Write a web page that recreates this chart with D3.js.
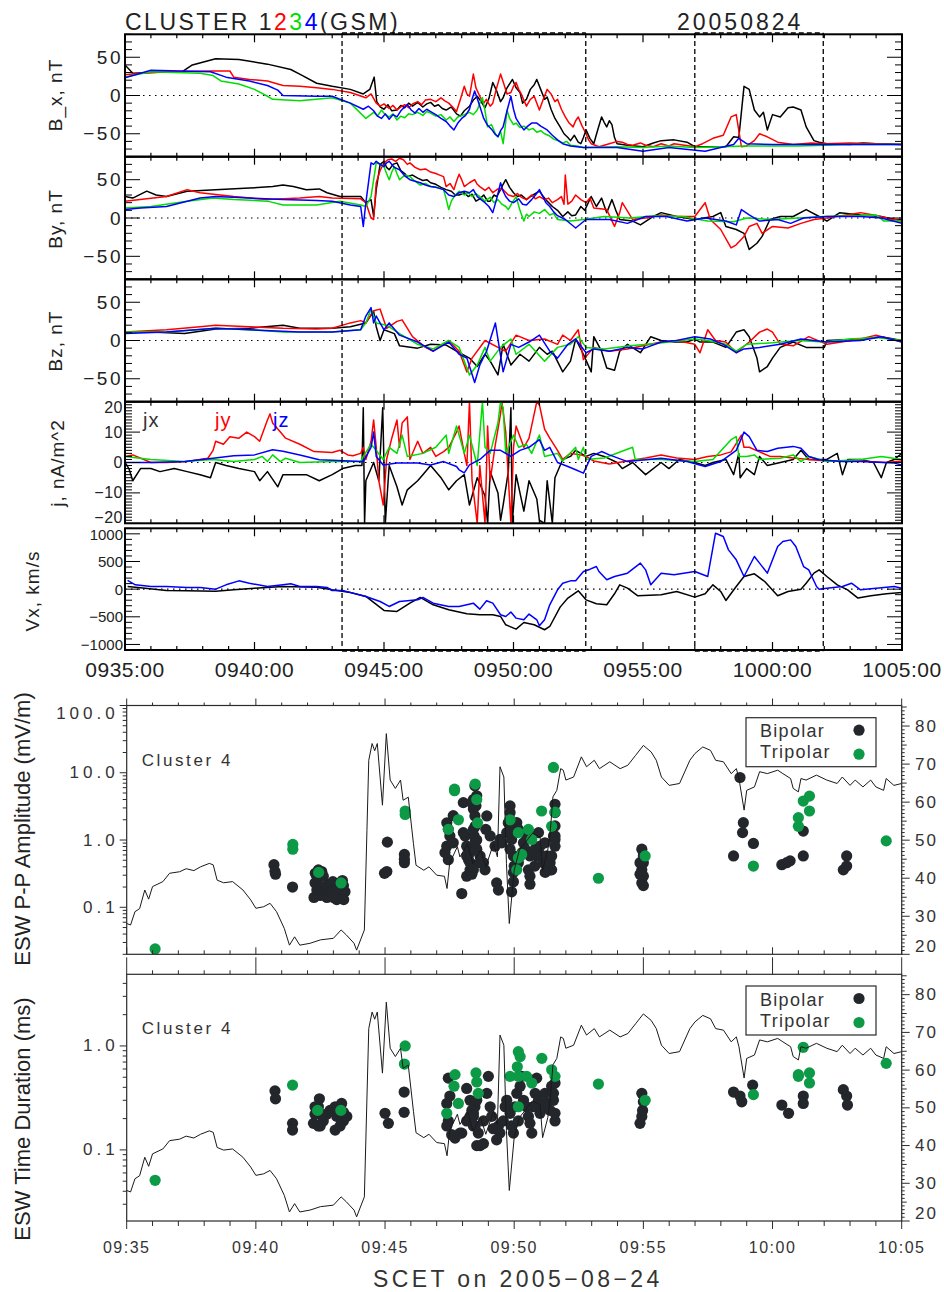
<!DOCTYPE html>
<html><head><meta charset="utf-8">
<script src="https://cdn.jsdelivr.net/npm/d3@7"></script>
<style>
body{margin:0;background:#fff}
svg{display:block}
text{font-family:"Liberation Sans",Arial,Helvetica,sans-serif}
</style>
</head><body>
<svg id="c" width="944" height="1292"></svg>
<script>
// ---------- time axis: minutes after 09:35:00 ----------
const topTimeLabels = ["0935:00","0940:00","0945:00","0950:00","0955:00","1000:00","1005:00"];
const lowTimeLabels = ["09:35","09:40","09:45","09:50","09:55","10:00","10:05"];
const labelMinutes = [0,5,10,15,20,25,30];
// marked intervals (start, end) in minutes
const boxStart = [8.38, 22.0];
const boxEnd = [17.79, 26.96];

// ---------- B_x (nT), spacecraft 1..4 ----------
const bx1 = [[0,40],[0.3,29],[1,30],[2.2,31],[2.6,40],[3.5,48],[4.4,47],[5.5,41],[6.4,34],[6.8,27],[7.4,16],[8.0,12],[8.7,8],[9.2,2],[9.45,8],[9.62,24],[9.72,-8],[9.85,-15],[10.0,-18],[10.15,-12],[10.3,-20],[10.5,-19],[10.65,-13],[10.8,-16],[10.95,-10],[11.1,-14],[11.3,-9],[11.5,-15],[11.65,-11],[11.8,-9],[11.95,-14],[12.1,-12],[12.25,-17],[12.4,-19],[12.6,-15],[12.8,-24],[12.95,-27],[13.1,-20],[13.3,-14],[13.45,-6],[13.6,-1],[13.75,-8],[13.9,-16],[14.05,-4],[14.2,17],[14.35,6],[14.5,-8],[14.6,-3],[14.75,10],[14.96,21],[15.1,10],[15.25,4],[15.35,-10],[15.5,-5],[15.65,8],[15.8,14],[15.9,21],[16.05,8],[16.2,-5],[16.3,-2],[16.45,-18],[16.6,-30],[16.8,-41],[16.95,-50],[17.1,-55],[17.2,-59],[17.35,-52],[17.5,-61],[17.6,-63],[17.7,-55],[17.8,-45],[17.95,-56],[18.1,-63],[18.25,-45],[18.4,-28],[18.5,-35],[18.6,-41],[18.7,-33],[18.8,-38],[18.9,-55],[19.0,-63],[19.4,-65],[20.0,-67],[20.4,-62],[20.7,-59],[21.2,-58],[21.7,-61],[22.0,-67],[22.6,-67],[23.2,-67],[23.5,-54],[23.7,-55],[23.9,12],[24.1,8],[24.3,-19],[24.5,-28],[24.65,-22],[24.8,-45],[25.0,-25],[25.3,-28],[25.6,-16],[25.8,-15],[26.1,-19],[26.3,-41],[26.6,-59],[26.8,-61],[27.1,-63],[28,-64],[28.5,-62],[29,-63],[30,-64]];
const bx2 = [[0,27],[0.6,29],[1.6,31],[3.4,32],[4.05,32],[4.2,24],[4.8,21],[5.5,19],[6.1,13],[6.75,12],[7.4,10],[8.0,8],[8.7,4],[9.3,-3],[9.5,2],[9.7,-10],[9.85,-14],[10.0,-11],[10.2,-17],[10.35,-13],[10.5,-19],[10.65,-15],[10.8,-12],[10.95,-16],[11.1,-11],[11.3,-8],[11.45,-12],[11.6,-6],[11.8,-5],[12.0,-8],[12.2,-3],[12.35,-7],[12.5,-10],[12.65,-15],[12.8,-21],[12.95,-5],[13.1,12],[13.2,2],[13.3,-1],[13.45,28],[13.55,10],[13.7,-1],[13.85,-10],[13.95,-5],[14.1,-14],[14.2,-10],[14.35,10],[14.5,28],[14.6,18],[14.75,2],[14.9,4],[15.0,12],[15.1,17],[15.2,8],[15.3,2],[15.4,-6],[15.5,-14],[15.65,-5],[15.8,-1],[15.9,-10],[16.0,-19],[16.15,-5],[16.3,8],[16.45,2],[16.6,-8],[16.7,-5],[16.85,-18],[17.0,-28],[17.15,-36],[17.3,-41],[17.4,-33],[17.5,-28],[17.65,-40],[17.8,-50],[17.9,-58],[18.0,-63],[18.3,-67],[18.7,-63],[19.0,-60],[19.2,-61],[19.4,-64],[19.6,-65],[19.9,-62],[20.1,-65],[20.4,-67],[20.7,-63],[21.0,-66],[21.2,-63],[21.6,-65],[22.0,-67],[22.3,-63],[22.7,-56],[23.1,-52],[23.4,-28],[23.6,-25],[23.8,-67],[24.0,-66],[24.3,-59],[24.5,-50],[24.8,-54],[25.2,-61],[25.8,-64],[26.5,-62],[27,-63],[28,-62],[29,-63],[30,-64]];
const bx3 = [[0,24],[1.0,31],[2.9,29],[3.4,26],[3.7,19],[4.4,15],[5.0,8],[5.5,-1],[5.7,-5],[6.75,-7],[8.0,-3],[8.7,-10],[9.3,-30],[9.45,-26],[9.6,-22],[9.75,-27],[9.9,-19],[10.05,-25],[10.2,-28],[10.35,-24],[10.5,-32],[10.65,-27],[10.8,-29],[10.95,-24],[11.1,-25],[11.3,-22],[11.5,-26],[11.65,-21],[11.8,-23],[12.0,-27],[12.2,-25],[12.4,-32],[12.55,-28],[12.7,-34],[12.85,-28],[13.1,-25],[13.3,-22],[13.45,-25],[13.6,-19],[13.7,-10],[13.8,-3],[13.9,-20],[14.0,-41],[14.15,-38],[14.3,-50],[14.4,-54],[14.5,-47],[14.6,-63],[14.7,-35],[14.75,-19],[14.85,-30],[15.0,-38],[15.1,-36],[15.25,-42],[15.4,-40],[15.6,-45],[15.75,-43],[15.9,-48],[16.05,-46],[16.2,-50],[16.4,-53],[16.55,-57],[16.7,-59],[16.9,-62],[17.05,-60],[17.2,-65],[17.45,-66],[17.7,-68],[19,-67],[20,-68],[21,-66],[22,-68],[23,-67],[24,-66],[25,-66],[26,-66],[27,-65],[28,-64],[29,-64],[30,-64]];
const bx4 = [[0,23],[1.0,33],[3.3,31],[3.9,24],[4.8,19],[5.5,13],[5.9,7],[6.1,0],[7.4,-1],[8.0,-1],[8.7,-10],[9.2,-18],[9.4,-14],[9.6,-20],[9.75,-27],[9.9,-30],[10.05,-24],[10.2,-31],[10.35,-25],[10.5,-28],[10.65,-20],[10.8,-15],[10.9,-12],[11.05,-19],[11.2,-23],[11.35,-17],[11.5,-22],[11.65,-18],[11.8,-21],[12.0,-25],[12.2,-30],[12.4,-34],[12.55,-40],[12.7,-45],[12.85,-36],[13.0,-30],[13.15,-26],[13.3,-18],[13.4,-5],[13.5,6],[13.6,-4],[13.7,-14],[13.85,-30],[14.0,-39],[14.15,-44],[14.3,-51],[14.4,-54],[14.5,-46],[14.6,-41],[14.75,-20],[14.9,-1],[15.0,-18],[15.1,-30],[15.25,-38],[15.4,-45],[15.55,-40],[15.7,-36],[15.9,-36],[16.05,-40],[16.2,-43],[16.3,-45],[16.5,-52],[16.7,-58],[16.9,-63],[17.2,-66],[17.7,-68],[19,-68],[20.0,-73],[21,-68],[22.4,-73],[23.0,-68],[23.5,-64],[23.7,-56],[24.0,-63],[25,-64],[27,-64],[30,-64]];

// ---------- B_y (nT) ----------
const by1 = [[0,28],[0.3,26],[0.84,35],[1.2,30],[1.6,28],[2.4,35],[3.5,37],[4.8,39],[5.7,41],[6.1,43],[6.5,41],[7.0,37],[7.5,38],[7.8,33],[8.3,28],[9.1,28],[9.3,20],[9.5,24],[9.6,2],[9.7,37],[9.85,70],[10.0,74],[10.1,66],[10.2,63],[10.35,70],[10.5,72],[10.65,62],[10.8,58],[10.9,54],[11.1,56],[11.3,52],[11.5,49],[11.65,50],[11.8,46],[12.0,44],[12.2,40],[12.4,37],[12.6,35],[12.75,30],[12.9,30],[13.1,33],[13.25,28],[13.4,31],[13.55,22],[13.7,25],[13.85,30],[14.0,22],[14.1,22],[14.25,30],[14.35,28],[14.5,37],[14.6,44],[14.7,50],[14.85,40],[15.0,33],[15.15,28],[15.3,30],[15.5,24],[15.65,28],[15.8,31],[16.0,35],[16.15,28],[16.3,22],[16.5,15],[16.7,10],[16.9,2],[17.1,8],[17.25,3],[17.4,4],[17.6,15],[17.75,10],[18.0,28],[18.2,15],[18.4,26],[18.6,7],[18.8,24],[18.95,10],[19.1,-2],[19.6,-4],[19.9,-9],[20.4,2],[20.7,7],[21.3,2],[22.0,-2],[22.7,2],[23.0,7],[23.2,-11],[23.6,-15],[23.9,-20],[24.1,-41],[24.4,-33],[24.6,-24],[24.9,-2],[25.3,2],[25.8,2],[26.3,11],[26.8,2],[27.1,-4],[27.6,7],[28.4,4],[29.2,2],[29.7,-2],[30,-2]];
const by2 = [[0,22],[1.6,28],[2.4,37],[2.9,33],[4.2,28],[5.5,24],[6.75,26],[7.5,28],[8.0,26],[9.1,25],[9.3,20],[9.5,0],[9.6,-2],[9.7,46],[9.85,62],[10.0,72],[10.15,76],[10.3,77],[10.45,74],[10.6,78],[10.75,76],[10.9,70],[11.0,72],[11.2,66],[11.4,63],[11.6,64],[11.8,60],[12.0,58],[12.15,56],[12.3,54],[12.4,41],[12.55,45],[12.7,37],[12.8,48],[12.9,57],[13.0,50],[13.1,41],[13.3,46],[13.5,50],[13.6,44],[13.7,41],[13.9,36],[14.05,40],[14.2,33],[14.4,38],[14.6,37],[14.8,30],[15.0,28],[15.15,32],[15.3,27],[15.5,24],[15.7,30],[15.85,25],[16.0,28],[16.2,24],[16.35,26],[16.5,20],[16.7,24],[16.85,28],[16.95,18],[17.0,56],[17.1,18],[17.25,22],[17.4,30],[17.6,24],[17.8,20],[17.95,26],[18.1,13],[18.6,11],[18.9,-11],[19.1,7],[19.2,20],[19.6,-2],[20.1,0],[20.7,4],[21.3,2],[22.0,2],[22.4,20],[22.6,-2],[23.0,-15],[23.4,-39],[23.6,-35],[23.9,-24],[24.1,-11],[24.4,-7],[24.6,-20],[25.0,-11],[25.6,-13],[26.1,-7],[26.6,-2],[27.1,0],[28.4,7],[28.9,4],[29.7,-2],[30,-4]];
const by3 = [[0,13],[1.0,15],[2.4,22],[3.4,26],[4.2,24],[5.5,22],[6.1,17],[7.4,17],[8.3,22],[9.1,17],[9.3,15],[9.5,28],[9.7,72],[9.85,70],[10.0,67],[10.1,58],[10.2,50],[10.3,60],[10.4,67],[10.5,58],[10.6,50],[10.8,56],[11.0,54],[11.2,48],[11.4,43],[11.6,45],[11.8,41],[12.05,40],[12.3,37],[12.4,25],[12.5,11],[12.6,22],[12.75,30],[12.9,35],[13.1,30],[13.25,33],[13.4,28],[13.55,32],[13.7,28],[13.9,22],[14.1,27],[14.25,20],[14.4,24],[14.55,18],[14.7,15],[14.8,11],[14.95,20],[15.1,28],[15.25,10],[15.4,-4],[15.5,5],[15.6,2],[15.8,8],[16.0,6],[16.2,11],[16.4,4],[16.55,6],[16.7,-2],[17.2,-4],[17.7,-2],[18.5,2],[19.5,0],[20.5,3],[21.5,2],[22.5,-4],[23.5,-5],[24.0,0],[25,-2],[26,0],[27,2],[28,3],[29,4],[29.3,-4],[30,-4]];
const by4 = [[0,11],[0.6,13],[1.6,15],[2.9,26],[3.5,28],[4.8,26],[6.1,24],[7.4,23],[8.0,22],[8.7,17],[9.1,15],[9.2,-11],[9.3,20],[9.5,72],[9.6,70],[9.7,74],[9.85,70],[10.0,67],[10.1,72],[10.2,74],[10.4,66],[10.6,63],[10.8,55],[11.0,50],[11.2,48],[11.4,46],[11.6,43],[11.8,41],[12.0,40],[12.3,37],[12.5,30],[12.7,28],[12.9,33],[13.1,35],[13.3,33],[13.45,37],[13.6,28],[13.75,24],[13.9,20],[14.05,15],[14.2,7],[14.35,25],[14.5,46],[14.6,35],[14.7,28],[14.85,22],[15.0,20],[15.2,25],[15.35,18],[15.5,17],[15.7,24],[15.85,30],[16.0,37],[16.1,30],[16.25,20],[16.4,15],[16.55,8],[16.7,3],[17.0,-2],[17.4,-13],[17.8,-2],[18.7,-2],[19.4,-7],[20.1,2],[20.9,2],[21.7,-4],[22.4,0],[23.2,-4],[23.6,-9],[23.8,11],[24.1,4],[24.5,-4],[25.2,-2],[25.7,-7],[26.2,0],[27.1,2],[28.4,2],[29.2,0],[30,-7]];

// ---------- B_z (nT) ----------
const bz1 = [[0,11],[1.0,11],[2.3,9],[3.5,15],[4.8,16],[6.1,20],[6.75,16],[8.0,16],[8.7,18],[9.3,23],[9.6,38],[9.7,18],[9.85,0],[10.0,14],[10.4,9],[10.6,-7],[11.3,-10],[11.8,-5],[12.4,-6],[12.8,-14],[13.3,-23],[13.6,-34],[13.9,-18],[14.1,-27],[14.4,-45],[14.6,-5],[14.9,-32],[15.25,-18],[15.6,-27],[16.0,-9],[16.3,-18],[16.5,-14],[16.9,-41],[17.2,-27],[17.4,2],[17.7,-18],[18.0,-41],[18.1,5],[18.4,-14],[18.6,-36],[18.9,-39],[19.1,-14],[19.4,-5],[19.9,-16],[20.3,5],[20.7,0],[21.2,-2],[21.7,-2],[22.0,2],[22.2,-2],[22.7,-2],[23.2,-9],[23.6,11],[23.9,14],[24.1,5],[24.4,-23],[24.5,-41],[24.8,-34],[25.0,-23],[25.3,-9],[25.8,-2],[26.3,-9],[27.0,-9],[27.1,0],[28.4,2],[29.2,5],[30,0]];
const bz2 = [[0,11],[1.6,14],[2.9,18],[3.5,20],[4.8,18],[6.1,16],[7.4,15],[8.0,16],[8.7,23],[9.1,26],[9.3,23],[9.6,39],[9.85,41],[10.1,16],[10.5,25],[10.7,27],[11.1,5],[11.6,-9],[11.9,-14],[12.5,0],[12.9,-14],[13.2,-41],[13.4,-23],[13.9,0],[14.4,-9],[14.7,-14],[15.1,7],[15.6,0],[16.2,2],[16.7,-5],[16.9,7],[17.2,0],[17.5,14],[17.7,-25],[18.1,-9],[18.7,-14],[19.4,-11],[20.0,-7],[20.7,-2],[21.3,0],[22.0,-5],[22.2,-16],[22.5,14],[22.8,0],[23.2,-2],[23.6,-16],[24.1,-2],[24.5,11],[24.8,15],[25.0,11],[25.3,-5],[25.8,-7],[26.4,5],[27.1,-5],[28.4,2],[29.0,7],[30,-2]];
const bz3 = [[0,11],[1.6,11],[3.5,16],[4.8,14],[6.1,11],[8.0,11],[9.1,14],[9.3,23],[9.5,41],[9.7,23],[10.1,20],[10.6,9],[11.3,-5],[11.9,-11],[12.5,0],[12.9,-9],[13.3,-45],[13.6,-32],[13.9,-9],[14.1,-27],[14.5,-9],[14.9,2],[15.1,-18],[15.6,-5],[16.2,-27],[16.7,-9],[17.2,-5],[17.5,5],[17.8,-9],[18.5,-11],[19.5,-7],[20.5,-4],[21.5,0],[22.0,2],[22.5,0],[23.2,-5],[23.6,-14],[24.0,-5],[25,-3],[26,0],[27,-2],[28,2],[29,4],[30,0]];
const bz4 = [[0,9],[1.6,11],[3.5,16],[4.8,14],[6.75,11],[8.0,11],[9.1,14],[9.3,32],[9.5,43],[9.6,23],[9.7,32],[10.0,14],[10.2,23],[10.6,7],[11.3,-2],[11.9,-14],[12.5,-2],[12.9,-18],[13.2,-23],[13.5,-55],[13.7,-32],[13.96,-14],[14.3,23],[14.6,-41],[14.9,-5],[15.2,-9],[15.6,-2],[16.0,7],[16.4,-14],[16.7,-23],[17.1,-5],[17.4,2],[17.8,-16],[18.1,-11],[18.7,-14],[19.4,-9],[20.0,-11],[20.7,-2],[21.3,0],[22.0,5],[22.6,2],[23.1,-5],[23.6,-16],[23.9,-11],[24.5,-9],[25.3,-5],[26.1,2],[27.1,-2],[28.4,0],[29.2,5],[30,-2]];

// ---------- current density (nA/m^2) ----------
const jx = [[0,0],[0.15,-2],[0.3,-6],[0.6,-2],[1.0,-2],[1.35,-3],[1.9,-2],[2.4,-3],[2.9,-4],[3.3,-5],[3.5,0],[3.9,-1],[4.4,-2],[5.0,-3],[5.2,-6],[5.5,-3],[5.9,-8],[6.1,-4],[6.5,-4],[7.0,-4],[7.5,-6],[8.0,-4],[8.4,-2],[8.9,-1],[9.15,-1],[9.2,18],[9.25,-20],[9.3,-6],[9.6,0],[9.8,-6],[9.95,18],[10.05,-20],[10.2,-1],[10.5,-8],[10.7,-14],[10.9,-9],[11.3,-6],[11.5,-4],[11.8,-1],[12.2,-5],[12.5,-9],[12.8,-6],[13.1,-4],[13.3,-14],[13.6,-5],[13.9,-11],[14.0,-20],[14.1,-3],[14.4,-10],[14.5,-19],[14.6,-14],[14.8,-3],[14.9,18],[14.95,-20],[15.1,-4],[15.4,-16],[15.6,-6],[15.9,-12],[16.0,-19],[16.2,-20],[16.3,-6],[16.5,-20],[16.6,-5],[16.9,1],[17.2,2],[17.4,4],[17.8,2],[18.1,3],[18.5,2],[19.0,0],[19.2,-2],[19.6,0],[20.1,-4],[20.7,0],[21.0,-2],[21.4,1],[22.0,0],[22.4,-1],[22.7,0],[23.2,1],[23.5,-4],[23.7,3],[23.75,-5],[24.0,-2],[24.3,-4],[24.5,2],[24.8,-1],[25.3,0],[25.8,1],[26.1,4],[26.4,1],[27.1,1],[27.5,3],[27.7,-4],[27.9,1],[28.4,1],[28.9,0],[29.2,-5],[29.4,0],[29.7,1],[30,3]];
const jy = [[0,2],[0.3,2.5],[1.0,0],[1.6,0],[2.4,0.3],[3.2,1.4],[3.4,4],[3.5,7],[3.8,6],[4.05,8.5],[4.4,8],[4.7,10],[5.0,8.5],[5.2,7],[5.5,14],[5.6,16],[5.7,13],[6.0,10],[6.2,8],[6.75,6],[7.3,3.6],[8.0,3.3],[8.3,4],[8.6,2.5],[8.8,2.2],[9.1,3],[9.2,5],[9.3,1],[9.5,7],[9.6,14],[9.7,5],[9.8,-6],[9.97,-14],[10.1,1],[10.3,8],[10.5,14],[10.6,5],[10.7,13],[10.9,15],[11.0,1],[11.3,7],[11.5,3],[11.8,5],[12.0,2],[12.3,3.6],[12.5,5],[12.8,10],[12.9,12],[13.1,3],[13.2,-1],[13.3,20],[13.4,-6],[13.6,-20],[13.7,-1],[13.9,-20],[14.0,12],[14.1,-6],[14.3,6],[14.5,16],[14.55,20],[14.7,10],[14.9,-20],[15.0,5],[15.1,12],[15.4,5],[15.6,8],[15.9,20],[16.0,19],[16.2,11],[16.4,8],[16.7,4],[16.9,1],[17.2,3],[17.6,2.5],[17.8,2],[18.1,0.5],[18.7,-0.5],[19.4,0.5],[20.1,1.5],[20.7,2.5],[21.3,1.5],[22.0,1],[22.5,2],[23.0,2.5],[23.4,3.5],[23.8,9],[23.9,5],[24.1,5],[24.5,3.5],[24.9,2],[25.3,2],[25.8,1.5],[26.4,1],[27.1,0.5],[28.4,0.5],[29.4,0],[30,0.5]];
const jg = [[0,2],[1.0,1],[2.3,0.3],[3.4,1],[4.2,0.3],[5.0,1],[5.3,2],[5.5,0.3],[5.7,2.5],[6.0,0.3],[6.2,1.4],[6.75,0],[8.0,0.3],[9.1,0.3],[9.2,2],[9.5,6],[9.7,4],[9.97,1],[10.2,5],[10.5,3],[10.7,9],[10.9,2],[11.5,3],[12.0,5],[12.4,9],[12.5,3],[12.8,12],[13.1,3],[13.3,9],[13.6,-1],[13.8,20],[13.9,5],[14.1,3],[14.4,13],[14.5,20],[14.6,18],[14.7,3],[15.0,9],[15.2,5],[15.5,6],[15.7,3],[16.0,9],[16.2,2],[16.7,3],[16.9,0.5],[17.4,5],[17.5,1],[17.7,5],[17.8,1],[18.5,1.5],[19.6,5],[19.7,1],[20.7,1],[22.0,0.3],[22.7,1],[23.4,7.5],[23.6,8.5],[23.7,2],[24.0,2],[24.3,2.5],[24.5,1],[25.3,1.4],[25.8,2.5],[26.1,0.3],[26.4,2],[27.1,0.3],[28.4,1],[29.2,2],[30,1]];
const jz = [[0,0],[1.0,0],[2.3,0.3],[3.4,1.4],[4.2,2.2],[5.0,2.5],[5.7,4.2],[6.1,3.7],[6.75,2.5],[7.5,0.9],[8.0,0.7],[9.1,0.3],[9.2,0.3],[9.5,5],[9.6,10],[9.7,2],[9.97,-0.8],[10.5,-0.2],[11.3,-0.2],[11.8,-0.8],[12.3,0.3],[12.8,-1.3],[12.9,-2.4],[13.1,-3.4],[13.3,-0.8],[13.7,1],[14.1,4],[14.5,4],[14.9,2],[15.25,4],[15.6,5],[16.0,7.5],[16.2,4],[16.4,5],[16.7,0],[17.1,-1.3],[17.4,-2.4],[17.7,-3.5],[18.0,2],[18.4,3.6],[18.7,2.5],[19.4,0.3],[20.1,0.9],[20.7,1.4],[21.7,0.3],[22.4,-1.3],[23.0,0.3],[23.6,4],[23.9,10],[24.1,8.5],[24.4,4],[24.8,3.6],[25.2,4.7],[25.8,5.3],[26.1,4.7],[26.4,2],[26.8,0.9],[27.7,0.3],[28.4,0.3],[29.7,-0.2],[30,-0.8]];

// ---------- V_x (km/s) ----------
const vxBlack = [[0.1,48],[0.5,30],[1.6,-24],[2.4,-30],[3.5,-36],[4.2,-12],[5.0,18],[6.1,48],[7.4,36],[8.0,-12],[8.7,-60],[9.3,-132],[10.0,-385],[10.5,-403],[11.0,-253],[11.4,-150],[11.9,-283],[12.5,-373],[13.2,-445],[13.7,-463],[14.2,-463],[14.5,-494],[14.7,-644],[15.1,-722],[15.4,-602],[15.8,-644],[16.2,-734],[16.4,-675],[16.8,-325],[17.1,-162],[17.5,-30],[17.8,-193],[18.2,-265],[18.6,-283],[18.9,-84],[19.1,78],[19.4,18],[19.8,-120],[20.7,-102],[21.3,-42],[22.0,-144],[22.4,-84],[22.7,78],[23.0,-42],[23.2,-205],[23.6,48],[23.9,229],[24.3,277],[24.7,138],[25.2,-120],[25.6,-42],[26.1,0],[26.3,108],[26.6,289],[26.8,349],[27.1,229],[27.5,78],[27.9,-12],[28.3,-162],[28.8,-120],[29.4,-84],[30,-60]];
const vxBlue = [[0.1,157],[0.4,78],[1.0,48],[1.6,48],[2.4,30],[2.9,30],[3.5,0],[3.9,78],[4.4,150],[4.8,108],[5.5,48],[6.1,78],[6.4,96],[6.75,48],[7.4,48],[7.8,30],[8.0,-24],[8.4,-24],[8.8,-72],[9.3,-132],[9.85,-223],[10.2,-313],[10.6,-223],[11.3,-193],[11.5,-150],[11.9,-253],[12.5,-313],[12.9,-313],[13.45,-253],[13.7,-361],[13.96,-210],[14.2,-253],[14.5,-463],[14.7,-494],[14.9,-415],[15.1,-524],[15.4,-554],[15.6,-451],[15.9,-554],[16.0,-662],[16.2,-554],[16.4,-283],[16.7,-12],[16.9,108],[17.2,150],[17.4,150],[17.7,319],[17.96,361],[18.2,409],[18.3,319],[18.6,169],[18.9,229],[19.4,289],[19.9,470],[20.1,349],[20.3,78],[20.7,289],[21.2,259],[22.0,319],[22.5,229],[22.8,1011],[23.1,951],[23.3,710],[23.6,530],[23.9,229],[24.1,409],[24.3,590],[24.5,470],[24.8,289],[25.2,771],[25.4,861],[25.7,891],[25.9,771],[26.2,409],[26.4,349],[26.7,48],[26.8,0],[27.1,18],[27.7,48],[28.05,108],[28.4,-12],[29.0,18],[29.7,48],[30,18]];

// ---------- ESW panels ----------
// background trace read on the right-hand axis (20-80)
const bgTrace = [[0,28.1],[0.15,27.7],[0.32,31.2],[0.5,32],[0.7,36.9],[0.85,34.5],[1.0,37.8],[1.4,39.1],[1.66,41.3],[2.05,41.7],[2.3,42.5],[2.6,42],[2.86,43.0],[3.2,43.9],[3.35,43.5],[3.5,39.5],[3.75,38.8],[4.1,39.1],[4.5,36.9],[4.8,34.3],[5.0,32.1],[5.3,32.5],[5.55,33.4],[5.8,31.2],[6.1,26.8],[6.3,22.4],[6.5,24.6],[6.7,22.4],[7.1,22.9],[7.5,23.8],[8.0,24.2],[8.3,26.4],[8.5,25.1],[8.8,22.9],[8.9,21.1],[9.2,26.4],[9.3,52.6],[9.37,71],[9.5,75.4],[9.6,73.5],[9.7,75.4],[9.9,59.2],[10.05,78],[10.2,65.8],[10.4,63.6],[10.6,65.8],[10.7,60.5],[10.9,61.3],[11.1,49.1],[11.2,43.4],[11.5,42.1],[11.7,43],[12.0,40.8],[12.3,40.5],[12.4,37.3],[12.5,43.9],[12.8,48.3],[12.9,45.6],[13.2,49],[13.4,43.9],[13.7,47.4],[13.9,43.0],[14.2,49.1],[14.35,45.6],[14.45,69.3],[14.6,66.6],[14.7,43.9],[14.81,28.1],[15.0,42.1],[15.2,47.4],[15.5,50.0],[15.7,51.8],[16.0,50.9],[16.1,42.1],[16.3,47.4],[16.4,52.6],[16.5,61.4],[16.65,63.1],[16.8,68.8],[16.9,68.4],[17.0,65.8],[17.3,66.6],[17.6,71.9],[17.8,69.3],[18.1,71.0],[18.3,68.8],[18.7,70.6],[19.1,68.8],[19.4,69.7],[19.7,72.3],[20.0,74.9],[20.3,73.2],[20.5,71.0],[20.7,66.6],[21.0,64.4],[21.4,64.9],[21.8,71.0],[22.0,72.8],[22.3,74.5],[22.6,73.6],[22.8,71.0],[23.1,70.6],[23.4,67.5],[23.6,68.8],[23.7,66.2],[23.9,57.9],[24.0,63.1],[24.3,64.0],[24.5,68.0],[24.8,67.5],[25.2,68.4],[25.4,67.5],[25.7,66.2],[25.8,63.6],[26.0,62.7],[26.1,66.2],[26.3,65.8],[26.7,67.1],[27.1,65.8],[27.5,64.9],[27.7,66.6],[28.0,64.4],[28.2,65.8],[28.5,64.0],[28.8,65.8],[29.0,64.0],[29.3,63.1],[29.4,66.2],[29.7,64.4],[30,64.9]];

// peak-to-peak amplitude (mV/m)
const ampBipolar = [[5.70,0.43],[5.74,0.34],[5.76,0.31],[6.42,0.20],
[7.42,0.36],[7.29,0.23],[7.36,0.18],[7.25,0.14],[7.49,0.15],[7.68,0.18],[7.81,0.22],[7.98,0.24],[8.07,0.18],[8.13,0.13],[8.32,0.16],[8.39,0.21],[8.45,0.17],[7.61,0.29],[7.55,0.34],[8.26,0.23],[7.36,0.29],[7.45,0.21],[7.6,0.2],[7.9,0.17],[8.2,0.19],[7.3,0.32],[8.35,0.25],[7.75,0.14],[8.0,0.14],[8.4,0.13],
[10.09,0.93],[10.07,0.34],[9.98,0.32],[10.75,0.61],[10.75,0.46],[10.75,0.52],
[12.32,0.65],[12.39,1.8],[12.39,0.81],[12.45,1.44],[12.45,0.51],[12.51,1.15],[12.64,0.91],[12.64,2.3],[12.97,0.16],[13.03,3.6],[13.1,1.15],[13.16,0.29],[13.23,0.51],[13.29,0.36],[13.42,4.0],[13.42,2.9],[13.49,1.6],[13.55,1.0],[13.55,0.73],[13.68,0.46],
[13.03,1.29],[13.16,0.81],[13.29,0.65],[13.16,0.58],[13.29,0.46],
[13.48,6.4],[13.55,4.54],[13.52,3.22],[13.48,2.28],[13.42,1.44],[13.45,1.15],[13.48,0.91],[13.68,0.58],[13.42,0.36],[13.36,0.31],[13.35,3.6],
[13.94,2.28],[14.07,1.15],[13.87,0.36],[13.81,0.46],[13.9,1.44],
[14.26,0.81],[14.32,0.23],[14.39,0.18],[14.45,1.02],[14.52,0.91],
[14.84,3.22],[14.84,2.56],[14.84,2.03],[14.77,1.81],[14.84,1.44],[14.71,1.29],[14.84,0.73],[14.97,0.58],[14.97,0.33],[14.97,0.24],[14.9,0.17],[14.9,1.02],
[15.1,1.81],[15.16,1.44],[15.23,0.58],[15.16,0.46],[15.36,0.91],[15.42,0.73],[15.42,1.29],[15.48,1.15],[15.61,0.58],[15.55,0.36],[15.61,0.29],[15.61,0.22],[15.68,1.15],[15.81,0.73],[15.87,0.58],[15.94,1.29],[16.0,0.81],[16.07,0.58],[16.13,0.46],[16.19,0.91],[16.26,0.58],[16.39,0.36],[16.39,0.46],[16.52,1.15],[16.58,0.81],[16.58,1.15],[16.58,3.4],[16.58,2.56],[16.58,1.62],[16.58,1.02],[16.45,0.58],[16.45,0.36],[15.3,0.65],[15.0,0.41],[15.8,0.41],[16.2,0.33],
[19.94,0.73],[20.0,0.58],[20.0,0.46],[19.94,0.36],[20.0,0.29],[19.94,0.23],[20.0,0.21],[19.87,0.46],[19.87,0.31],
[23.49,0.58],[23.74,8.5],[23.87,1.81],[23.84,1.29],[24.26,0.89],[25.36,0.43],[25.55,0.46],[25.68,0.49],[26.19,1.36],[26.19,0.58],[27.74,0.36],[27.87,0.41],[27.87,0.58]];
const ampTripolar = [[1.1,0.024],[6.43,0.86],[6.43,0.73],[7.43,0.33],[8.3,0.23],[10.78,2.7],[10.78,2.4],[12.69,5.7],[12.69,5.4],[12.45,1.44],[12.84,2.0],[13.49,6.8],[13.55,4.0],[13.58,1.8],[14.84,2.0],[15.1,0.36],[15.16,0.54],[15.16,1.29],[15.29,0.61],[15.55,1.44],[15.68,1.02],[16.06,2.7],[16.45,1.6],[16.52,12.0],[16.58,2.6],[18.26,0.27],[20.07,0.58],[24.26,0.41],[26.0,2.15],[26.0,1.6],[26.19,3.8],[26.43,4.5],[26.43,2.7],[29.4,0.97]];

// time duration (ms)
const durBipolar = [[5.74,0.37],[5.76,0.31],[6.42,0.18],[6.42,0.155],
[7.46,0.31],[7.42,0.26],[7.29,0.22],[7.23,0.18],[7.42,0.17],[7.61,0.19],[7.74,0.22],[7.87,0.24],[8.07,0.26],[8.13,0.21],[8.07,0.155],[8.32,0.28],[8.39,0.19],[8.26,0.17],[7.49,0.17],[7.29,0.26],[7.55,0.22],[8.52,0.21],[8.39,0.23],
[10.0,0.225],[10.13,0.18],[10.74,0.36],[10.74,0.23],
[12.45,0.49],[12.39,0.28],[12.51,0.33],[12.45,0.19],[12.39,0.17],[12.58,0.14],[12.71,0.13],[12.97,0.145],[13.16,0.39],[13.29,0.30],[13.42,0.21],[13.49,0.17],[13.55,0.11],[13.36,0.24],
[12.9,0.145],[13.16,0.19],[13.29,0.21],[13.42,0.225],[13.48,0.26],[13.55,0.30],[13.42,0.17],[13.61,0.145],[13.68,0.11],[13.81,0.115],[13.81,0.19],[14.0,0.51],[13.94,0.35],[14.07,0.26],[14.13,0.21],[14.19,0.16],[14.32,0.125],[14.39,0.17],[14.45,0.145],[14.58,0.19],[14.65,0.26],[14.71,0.30],[14.84,0.225],[14.9,0.17],[14.97,0.145],[15.03,0.26],[15.1,0.35],[15.16,0.19],[15.23,0.41],[15.29,0.51],[15.36,0.30],[15.48,0.26],[15.55,0.21],[15.61,0.18],[15.68,0.145],[15.74,0.26],[15.81,0.35],[15.87,0.49],[15.94,0.30],[16.0,0.225],[16.07,0.26],[16.19,0.35],[16.26,0.28],[16.39,0.24],[16.45,0.41],[16.52,0.30],[16.58,0.225],[16.58,0.19],[16.52,0.35],[16.58,0.44],
[19.94,0.35],[20.0,0.29],[19.97,0.24],[19.94,0.21],[19.87,0.18],
[23.49,0.36],[23.74,0.33],[23.81,0.29],[24.23,0.42],[25.36,0.27],[25.62,0.225],[26.19,0.33],[26.19,0.28],[27.74,0.38],[27.87,0.33],[27.9,0.27]];
const durTripolar = [[1.1,0.051],[6.42,0.42],[7.39,0.24],[8.29,0.24],[10.78,1.0],[10.75,0.67],[12.71,0.53],[12.67,0.41],[12.39,0.225],[12.84,0.28],[13.52,0.55],[13.55,0.45],[13.61,0.35],[15.16,0.88],[15.23,0.79],[15.12,0.63],[14.84,0.51],[15.16,0.51],[15.16,0.26],[15.48,0.51],[15.68,0.44],[16.07,0.76],[16.45,0.59],[16.58,0.51],[18.26,0.43],[20.07,0.30],[24.26,0.34],[26.0,0.53],[26.0,0.51],[26.19,0.97],[26.43,0.55],[26.43,0.44],[29.4,0.68]];

// ---------- drawing ----------
const svg = d3.select('#c');
const X0T = 125, X1T = 902;
const xT = d3.scaleLinear([0, 30], [X0T, X1T]);
const minuteTicks = d3.range(0, 31, 1);

const clr = {c1:'#000000', c2:'#ff0000', c3:'#00dd00', c4:'#0000ff'};

function tickSet(g, pts, width, color) {
  g.selectAll(null).data(pts).join('line')
    .attr('x1', d => d[0]).attr('y1', d => d[1])
    .attr('x2', d => d[2]).attr('y2', d => d[3])
    .attr('stroke', color || '#000').attr('stroke-width', width);
}

const topPanels = [
  {top:34.3, bot:156.7, dom:[-80,80], major:[-50,0,50], step:10, title:'B_x, nT', tx:55, ty:95,
   series:[[bx1,clr.c1],[bx2,clr.c2],[bx3,clr.c3],[bx4,clr.c4]], fs:19, ls:2.5},
  {top:156.7, bot:279.3, dom:[-80,80], major:[-50,0,50], step:10, title:'By, nT', tx:55, ty:219,
   series:[[by1,clr.c1],[by2,clr.c2],[by3,clr.c3],[by4,clr.c4]], fs:19, ls:2.5},
  {top:279.3, bot:401.7, dom:[-80,80], major:[-50,0,50], step:10, title:'Bz, nT', tx:55, ty:341,
   series:[[bz1,clr.c1],[bz2,clr.c2],[bz3,clr.c3],[bz4,clr.c4]], fs:19, ls:2.5},
  {top:401.7, bot:523.3, dom:[-20,20], major:[-20,-10,0,10,20], step:1, title:'j, nA/m^2', tx:57, ty:463,
   series:[[jx,clr.c1],[jy,clr.c2],[jg,clr.c3],[jz,clr.c4]], fs:16, ls:0.5},
  {top:528.3, bot:650, dom:[-1100,1100], major:[-1000,-500,0,500,1000], step:100, title:'Vx, km/s', tx:32, ty:591,
   series:[[vxBlack,clr.c1],[vxBlue,clr.c4]], fs:15, ls:0}
];

const fmt = d => d < 0 ? '\u2212' + Math.abs(d) : String(d);

topPanels.forEach((p, i) => {
  const y = d3.scaleLinear(p.dom, [p.bot, p.top]);
  const g = svg.append('g');
  const cid = 'clipT' + i;
  svg.append('clipPath').attr('id', cid).append('rect')
    .attr('x', X0T).attr('y', p.top).attr('width', X1T - X0T).attr('height', p.bot - p.top);

  // zero reference
  g.append('line').attr('x1', X0T).attr('x2', X1T).attr('y1', y(0)).attr('y2', y(0))
    .attr('stroke', '#000').attr('stroke-width', 1.1).attr('stroke-dasharray', '1.5,4.5');

  // traces
  const line = d3.line().x(d => xT(d[0])).y(d => y(d[1]));
  const lg = g.append('g').attr('clip-path', `url(#${cid})`);
  p.series.forEach(([data, c]) => {
    lg.append('path').attr('d', line(data)).attr('fill', 'none')
      .attr('stroke', c).attr('stroke-width', 1.5).attr('stroke-linejoin', 'round');
  });

  // y ticks (inward, both sides)
  const minor = d3.range(p.dom[0], p.dom[1] + 1e-9, p.step).filter(v => !p.major.includes(v));
  const yt = [];
  minor.forEach(v => { yt.push([X0T, y(v), X0T + 7, y(v)]); yt.push([X1T, y(v), X1T - 7, y(v)]); });
  p.major.forEach(v => { yt.push([X0T, y(v), X0T + 15, y(v)]); yt.push([X1T, y(v), X1T - 15, y(v)]); });
  tickSet(g, yt, 1);

  // x ticks (inward, top and bottom)
  const xt = [];
  minuteTicks.forEach(m => {
    const L = m % 5 === 0 ? 8 : 4;
    xt.push([xT(m), p.top, xT(m), p.top + L]);
    xt.push([xT(m), p.bot, xT(m), p.bot - L]);
  });
  tickSet(g, xt, 1.2);

  // frame
  g.append('rect').attr('x', X0T).attr('y', p.top).attr('width', X1T - X0T).attr('height', p.bot - p.top)
    .attr('fill', 'none').attr('stroke', '#000').attr('stroke-width', 2);

  // y labels
  g.selectAll(null).data(p.major).join('text')
    .attr('x', X0T - 2).attr('y', v => Math.min(p.bot - 6, Math.max(p.top + 6, y(v))))
    .attr('text-anchor', 'end').attr('dominant-baseline', 'central')
    .attr('font-size', p.fs).attr('letter-spacing', p.ls).attr('fill', '#222')
    .text(fmt);

  // axis title
  g.append('text').attr('transform', `translate(${p.tx},${p.ty}) rotate(-90)`)
    .attr('text-anchor', 'middle').attr('dominant-baseline', 'central')
    .attr('font-size', 19).attr('letter-spacing', 1).attr('fill', '#222').text(p.title);
});

// component labels inside current panel
[['jx', 143, '#333'], ['jy', 215, clr.c2], ['jz', 273, clr.c4]].forEach(([t, x, c]) => {
  svg.append('text').attr('x', x).attr('y', 426.5).attr('font-size', 20)
    .attr('letter-spacing', 1).attr('fill', c).text(t);
});

// time labels under the top stack
svg.selectAll(null).data(labelMinutes).join('text')
  .attr('x', m => xT(m)).attr('y', 677).attr('text-anchor', 'middle')
  .attr('font-size', 21).attr('letter-spacing', 0.5).attr('fill', '#222')
  .text((m, i) => topTimeLabels[i]);

// header
const head = svg.append('text').attr('x', 125).attr('y', 29.5).attr('font-size', 23)
  .attr('letter-spacing', 2.5).attr('fill', '#222');
head.append('tspan').text('CLUSTER  1');
head.append('tspan').attr('fill', clr.c2).text('2');
head.append('tspan').attr('fill', clr.c3).text('3');
head.append('tspan').attr('fill', clr.c4).text('4');
head.append('tspan').text('(GSM)');
svg.append('text').attr('x', 677).attr('y', 29.5).attr('font-size', 23)
  .attr('letter-spacing', 3).attr('fill', '#222').text('20050824');

// marked intervals
const dashG = svg.append('g').attr('stroke', '#000').attr('stroke-width', 1.3)
  .attr('stroke-dasharray', '5,3').attr('fill', 'none');
boxStart.forEach((s, i) => {
  const a = xT(s), b = xT(boxEnd[i]);
  dashG.append('line').attr('x1', a).attr('x2', a).attr('y1', 33).attr('y2', 651);
  dashG.append('line').attr('x1', b).attr('x2', b).attr('y1', 33).attr('y2', 651);
  dashG.append('line').attr('x1', a).attr('x2', b).attr('y1', 33).attr('y2', 33);
  dashG.append('line').attr('x1', a).attr('x2', b).attr('y1', 651).attr('y2', 651);
});

// ---------- lower ESW panels ----------
const X0L = 126.7, X1L = 901.7;
const xL = d3.scaleLinear([0, 30], [X0L, X1L]);
const lowPanels = [
  {top:705.5, bot:954.3, dom:[0.02, 100], labels:[[0.1,'0.1'],[1,'1.0'],[10,'10.0'],[100,'100.0']],
   title:'ESW P-P Amplitude (mV/m)', ty:829, bip:ampBipolar, tri:ampTripolar,
   topTick:[3,7], botTick:[-4,-7], showX:false},
  {top:974.3, bot:1221, dom:[0.0207, 4.89], labels:[[0.1,'0.1'],[1,'1.0']],
   title:'ESW Time Duration (ms)', ty:1119, bip:durBipolar, tri:durTripolar,
   topTick:[4,17], botTick:[5,8], showX:true}
];
const rightDom = [20, 85.4];
const ink = '#2b2b2b';

lowPanels.forEach((p, i) => {
  const y = d3.scaleLog(p.dom, [p.bot, p.top]);
  const yr = d3.scaleLinear(rightDom, [p.bot, p.top]);
  const g = svg.append('g');
  const cid = 'clipL' + i;
  svg.append('clipPath').attr('id', cid).append('rect')
    .attr('x', X0L).attr('y', p.top).attr('width', X1L - X0L).attr('height', p.bot - p.top);
  const inner = g.append('g').attr('clip-path', `url(#${cid})`);

  // event markers
  inner.selectAll(null).data(p.bip).join('circle')
    .attr('cx', d => xL(d[0])).attr('cy', d => y(d[1])).attr('r', 5.6).attr('fill', '#23262b');
  inner.selectAll(null).data(p.tri).join('circle')
    .attr('cx', d => xL(d[0])).attr('cy', d => y(d[1])).attr('r', 5.6).attr('fill', '#0c9a47');

  // background trace on right axis
  inner.append('path').attr('d', d3.line().x(d => xL(d[0])).y(d => yr(d[1]))(bgTrace))
    .attr('fill', 'none').attr('stroke', '#1a1a1a').attr('stroke-width', 1);

  // frame
  g.append('rect').attr('x', X0L).attr('y', p.top).attr('width', X1L - X0L).attr('height', p.bot - p.top)
    .attr('fill', 'none').attr('stroke', ink).attr('stroke-width', 1.2);

  const t = [];
  // x ticks: top outward, bottom per panel
  minuteTicks.forEach(m => {
    const big = m % 5 === 0;
    t.push([xL(m), p.top, xL(m), p.top - (big ? p.topTick[1] : p.topTick[0])]);
    t.push([xL(m), p.bot, xL(m), p.bot + (big ? p.botTick[1] : p.botTick[0])]);
  });
  // left log ticks outward
  const [lo, hi] = p.dom;
  for (let e = -2; e <= 2; e++) {
    for (let k = 1; k <= 9; k++) {
      const v = k * Math.pow(10, e);
      if (v < lo || v > hi) continue;
      t.push([X0L, y(v), X0L - (k === 1 ? 7 : 4), y(v)]);
    }
  }
  // right linear ticks outward
  d3.range(20, 86, 1).forEach(v => {
    const L = v % 10 === 0 ? 8 : (v % 5 === 0 ? 5 : 3);
    t.push([X1L, yr(v), X1L + L, yr(v)]);
  });
  tickSet(g, t, 1, ink);

  // left labels
  g.selectAll(null).data(p.labels).join('text')
    .attr('x', X0L - 8).attr('y', d => Math.min(p.bot - 8, Math.max(p.top + 8, y(d[0]))))
    .attr('text-anchor', 'end').attr('dominant-baseline', 'central')
    .attr('font-size', 17).attr('letter-spacing', 4).attr('fill', '#333').text(d => d[1]);
  // right labels
  g.selectAll(null).data(d3.range(20, 81, 10)).join('text')
    .attr('x', 915).attr('y', v => Math.min(p.bot - 8, yr(v)))
    .attr('dominant-baseline', 'central')
    .attr('font-size', 17).attr('letter-spacing', 2).attr('fill', '#333').text(v => v);

  // axis title
  g.append('text').attr('transform', `translate(22,${p.ty}) rotate(-90)`)
    .attr('text-anchor', 'middle').attr('dominant-baseline', 'central')
    .attr('font-size', 22).attr('fill', '#222').text(p.title);

  // spacecraft note
  g.append('text').attr('x', 141.7).attr('y', p.top + 60).attr('font-size', 17)
    .attr('letter-spacing', 2.6).attr('fill', '#333').text('Cluster  4');

  // legend
  const lx = 746, ly = p.top + (i === 0 ? 12.2 : 11.7);
  g.append('rect').attr('x', lx).attr('y', ly).attr('width', 130).attr('height', 49)
    .attr('fill', '#fff').attr('stroke', ink).attr('stroke-width', 1.2);
  g.append('text').attr('x', 760).attr('y', ly + 19.5).attr('font-size', 18)
    .attr('letter-spacing', 1.3).attr('fill', '#333').text('Bipolar');
  g.append('text').attr('x', 760).attr('y', ly + 40.5).attr('font-size', 18)
    .attr('letter-spacing', 1.3).attr('fill', '#333').text('Tripolar');
  g.append('circle').attr('cx', 859).attr('cy', ly + 12.5).attr('r', 5.6).attr('fill', '#23262b');
  g.append('circle').attr('cx', 859).attr('cy', ly + 36.5).attr('r', 5.6).attr('fill', '#0c9a47');

  if (p.showX) {
    g.selectAll(null).data(labelMinutes).join('text')
      .attr('x', m => xL(m)).attr('y', 1253).attr('text-anchor', 'middle')
      .attr('font-size', 16).attr('letter-spacing', 1.5).attr('fill', '#333')
      .text((m, k) => lowTimeLabels[k]);
  }
});

svg.append('text').attr('x', 373).attr('y', 1286.5).attr('font-size', 23)
  .attr('letter-spacing', 3.4).attr('fill', '#333').text('SCET  on  2005\u221208\u221224');
</script>
</body></html>
